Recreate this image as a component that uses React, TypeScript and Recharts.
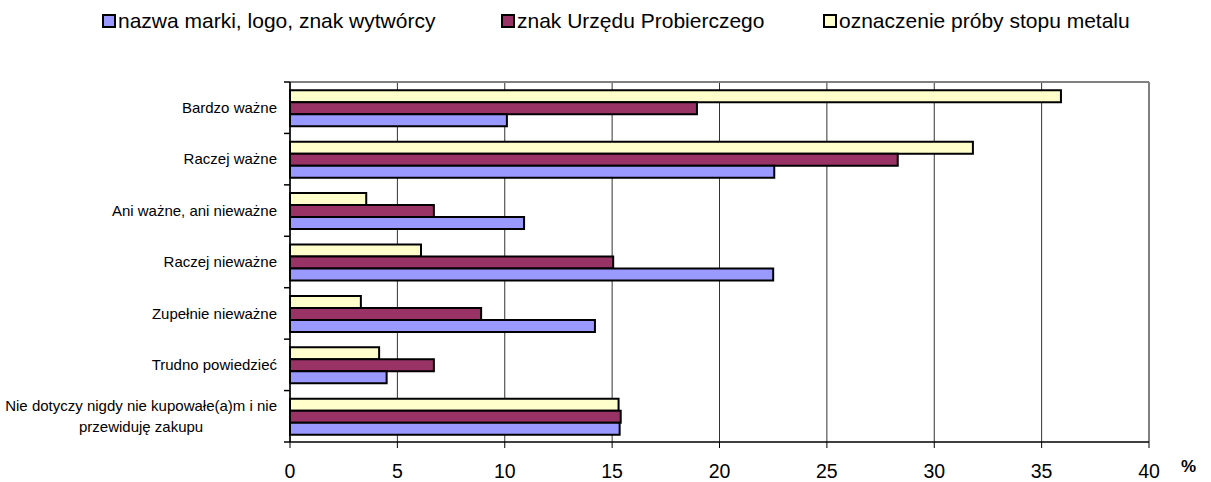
import React from 'react';
import { BarChart, Bar, XAxis, YAxis, CartesianGrid, ReferenceLine } from 'recharts';

const categories = [
  'Bardzo ważne',
  'Raczej ważne',
  'Ani ważne, ani nieważne',
  'Raczej nieważne',
  'Zupełnie nieważne',
  'Trudno powiedzieć',
  'Nie dotyczy nigdy nie kupowałe(a)m i nie|przewiduję zakupu',
];
const brandMark = [10.1, 22.55, 10.9, 22.5, 14.2, 4.5, 15.35];
const assayOffice = [18.95, 28.3, 6.7, 15.05, 8.9, 6.7, 15.4];
const alloyGrade = [35.9, 31.8, 3.55, 6.1, 3.3, 4.15, 15.3];
const xTicks = [0, 5, 10, 15, 20, 25, 30, 35, 40];

const seriesNames = {
  brand: 'nazwa marki, logo, znak wytwórcy',
  office: 'znak Urzędu Probierczego',
  alloy: 'oznaczenie próby stopu metalu',
};

const COLORS = { brand: '#9999FF', office: '#993366', alloy: '#FFFFCC' };

const W = 1211;
const H = 482;
const TOP = 82;
const XAXIS_H = 40;
const BAND = (H - TOP - XAXIS_H) / categories.length;
const FONT = '"Liberation Sans", Arial, sans-serif';

const data = categories.map((name, i) => ({
  name,
  brand: brandMark[i],
  office: assayOffice[i],
  alloy: alloyGrade[i],
}));

let ctx: CanvasRenderingContext2D | null = null;
const measure = (t: string, size: number) => {
  if (!ctx) ctx = document.createElement('canvas').getContext('2d');
  if (!ctx) return t.length * size * 0.5;
  ctx.font = `${size}px ${FONT}`;
  return ctx.measureText(t).width;
};

const CategoryTick = (props: any) => {
  const { x, y, payload, index } = props;
  const lines: string[] = String(payload.value).split('|');
  const size = 15;
  const axisX = x + 13;
  return (
    <g>
      <line x1={axisX - 6} x2={axisX} y1={y - BAND / 2} y2={y - BAND / 2} stroke="#000" strokeWidth={1.5} />
      {index === categories.length - 1 && (
        <line x1={axisX - 6} x2={axisX} y1={y + BAND / 2} y2={y + BAND / 2} stroke="#000" strokeWidth={1.5} />
      )}
      {lines.length === 1 ? (
        <text x={x} y={y} dy="0.35em" textAnchor="end" fontSize={size} fontFamily={FONT} fill="#000">
          {lines[0]}
        </text>
      ) : (
        (() => {
          const widest = Math.max(...lines.map((l) => measure(l, size)));
          const cx = x - widest / 2;
          const step = 21;
          return lines.map((l, k) => (
            <text
              key={k}
              x={cx}
              y={y + (k - (lines.length - 1) / 2) * step}
              dy="0.35em"
              textAnchor="middle"
              fontSize={size}
              fontFamily={FONT}
              fill="#000"
            >
              {l}
            </text>
          ));
        })()
      )}
    </g>
  );
};

const LegendItem = ({ left, color, label }: { left: number; color: string; label: string }) => (
  <div style={{ position: 'absolute', left, top: 10, display: 'flex', alignItems: 'center', height: 22 }}>
    <span
      style={{
        width: 10,
        height: 10,
        background: color,
        border: '2px solid #000',
        marginRight: 2,
        display: 'inline-block',
      }}
    />
    <span style={{ fontSize: 21, fontFamily: FONT, color: '#000', whiteSpace: 'nowrap' }}>{label}</span>
  </div>
);

export default function App() {
  return (
    <div style={{ position: 'absolute', left: 0, top: 0, width: W, height: H, background: '#fff' }}>
      <LegendItem left={102} color={COLORS.brand} label={seriesNames.brand} />
      <LegendItem left={501} color={COLORS.office} label={seriesNames.office} />
      <LegendItem left={823} color={COLORS.alloy} label={seriesNames.alloy} />

      <BarChart
        width={W}
        height={H}
        data={data}
        layout="vertical"
        margin={{ top: TOP, right: 62, bottom: 0, left: 0 }}
        barCategoryGap="16%"
        barGap={0}
      >
        <CartesianGrid horizontal={false} stroke="#333" strokeWidth={1} />
        <CartesianGrid vertical={false} horizontalPoints={[TOP]} stroke="#808080" strokeWidth={2} />
        <ReferenceLine x={40} stroke="#808080" strokeWidth={2} />
        <XAxis
          type="number"
          domain={[0, 40]}
          ticks={xTicks}
          interval={0}
          height={XAXIS_H}
          axisLine={{ stroke: '#000', strokeWidth: 1.5 }}
          tickLine={{ stroke: '#000' }}
          tickSize={6}
          tickMargin={16}
          tick={{ fontSize: 19.5, fill: '#000', fontFamily: FONT }}
        />
        <YAxis
          type="category"
          dataKey="name"
          width={290}
          interval={0}
          axisLine={{ stroke: '#000', strokeWidth: 1.5 }}
          tickLine={false}
          tickSize={5}
          tickMargin={8}
          tick={<CategoryTick />}
        />
        <Bar dataKey="alloy" name={seriesNames.alloy} fill={COLORS.alloy} stroke="#000" strokeWidth={2} isAnimationActive={false} />
        <Bar dataKey="office" name={seriesNames.office} fill={COLORS.office} stroke="#000" strokeWidth={2} isAnimationActive={false} />
        <Bar dataKey="brand" name={seriesNames.brand} fill={COLORS.brand} stroke="#000" strokeWidth={2} isAnimationActive={false} />
      </BarChart>

      <div
        style={{
          position: 'absolute',
          left: 1181,
          top: 457,
          fontSize: 17,
          fontWeight: 'bold',
          fontFamily: FONT,
          color: '#000',
        }}
      >
        %
      </div>
    </div>
  );
}
